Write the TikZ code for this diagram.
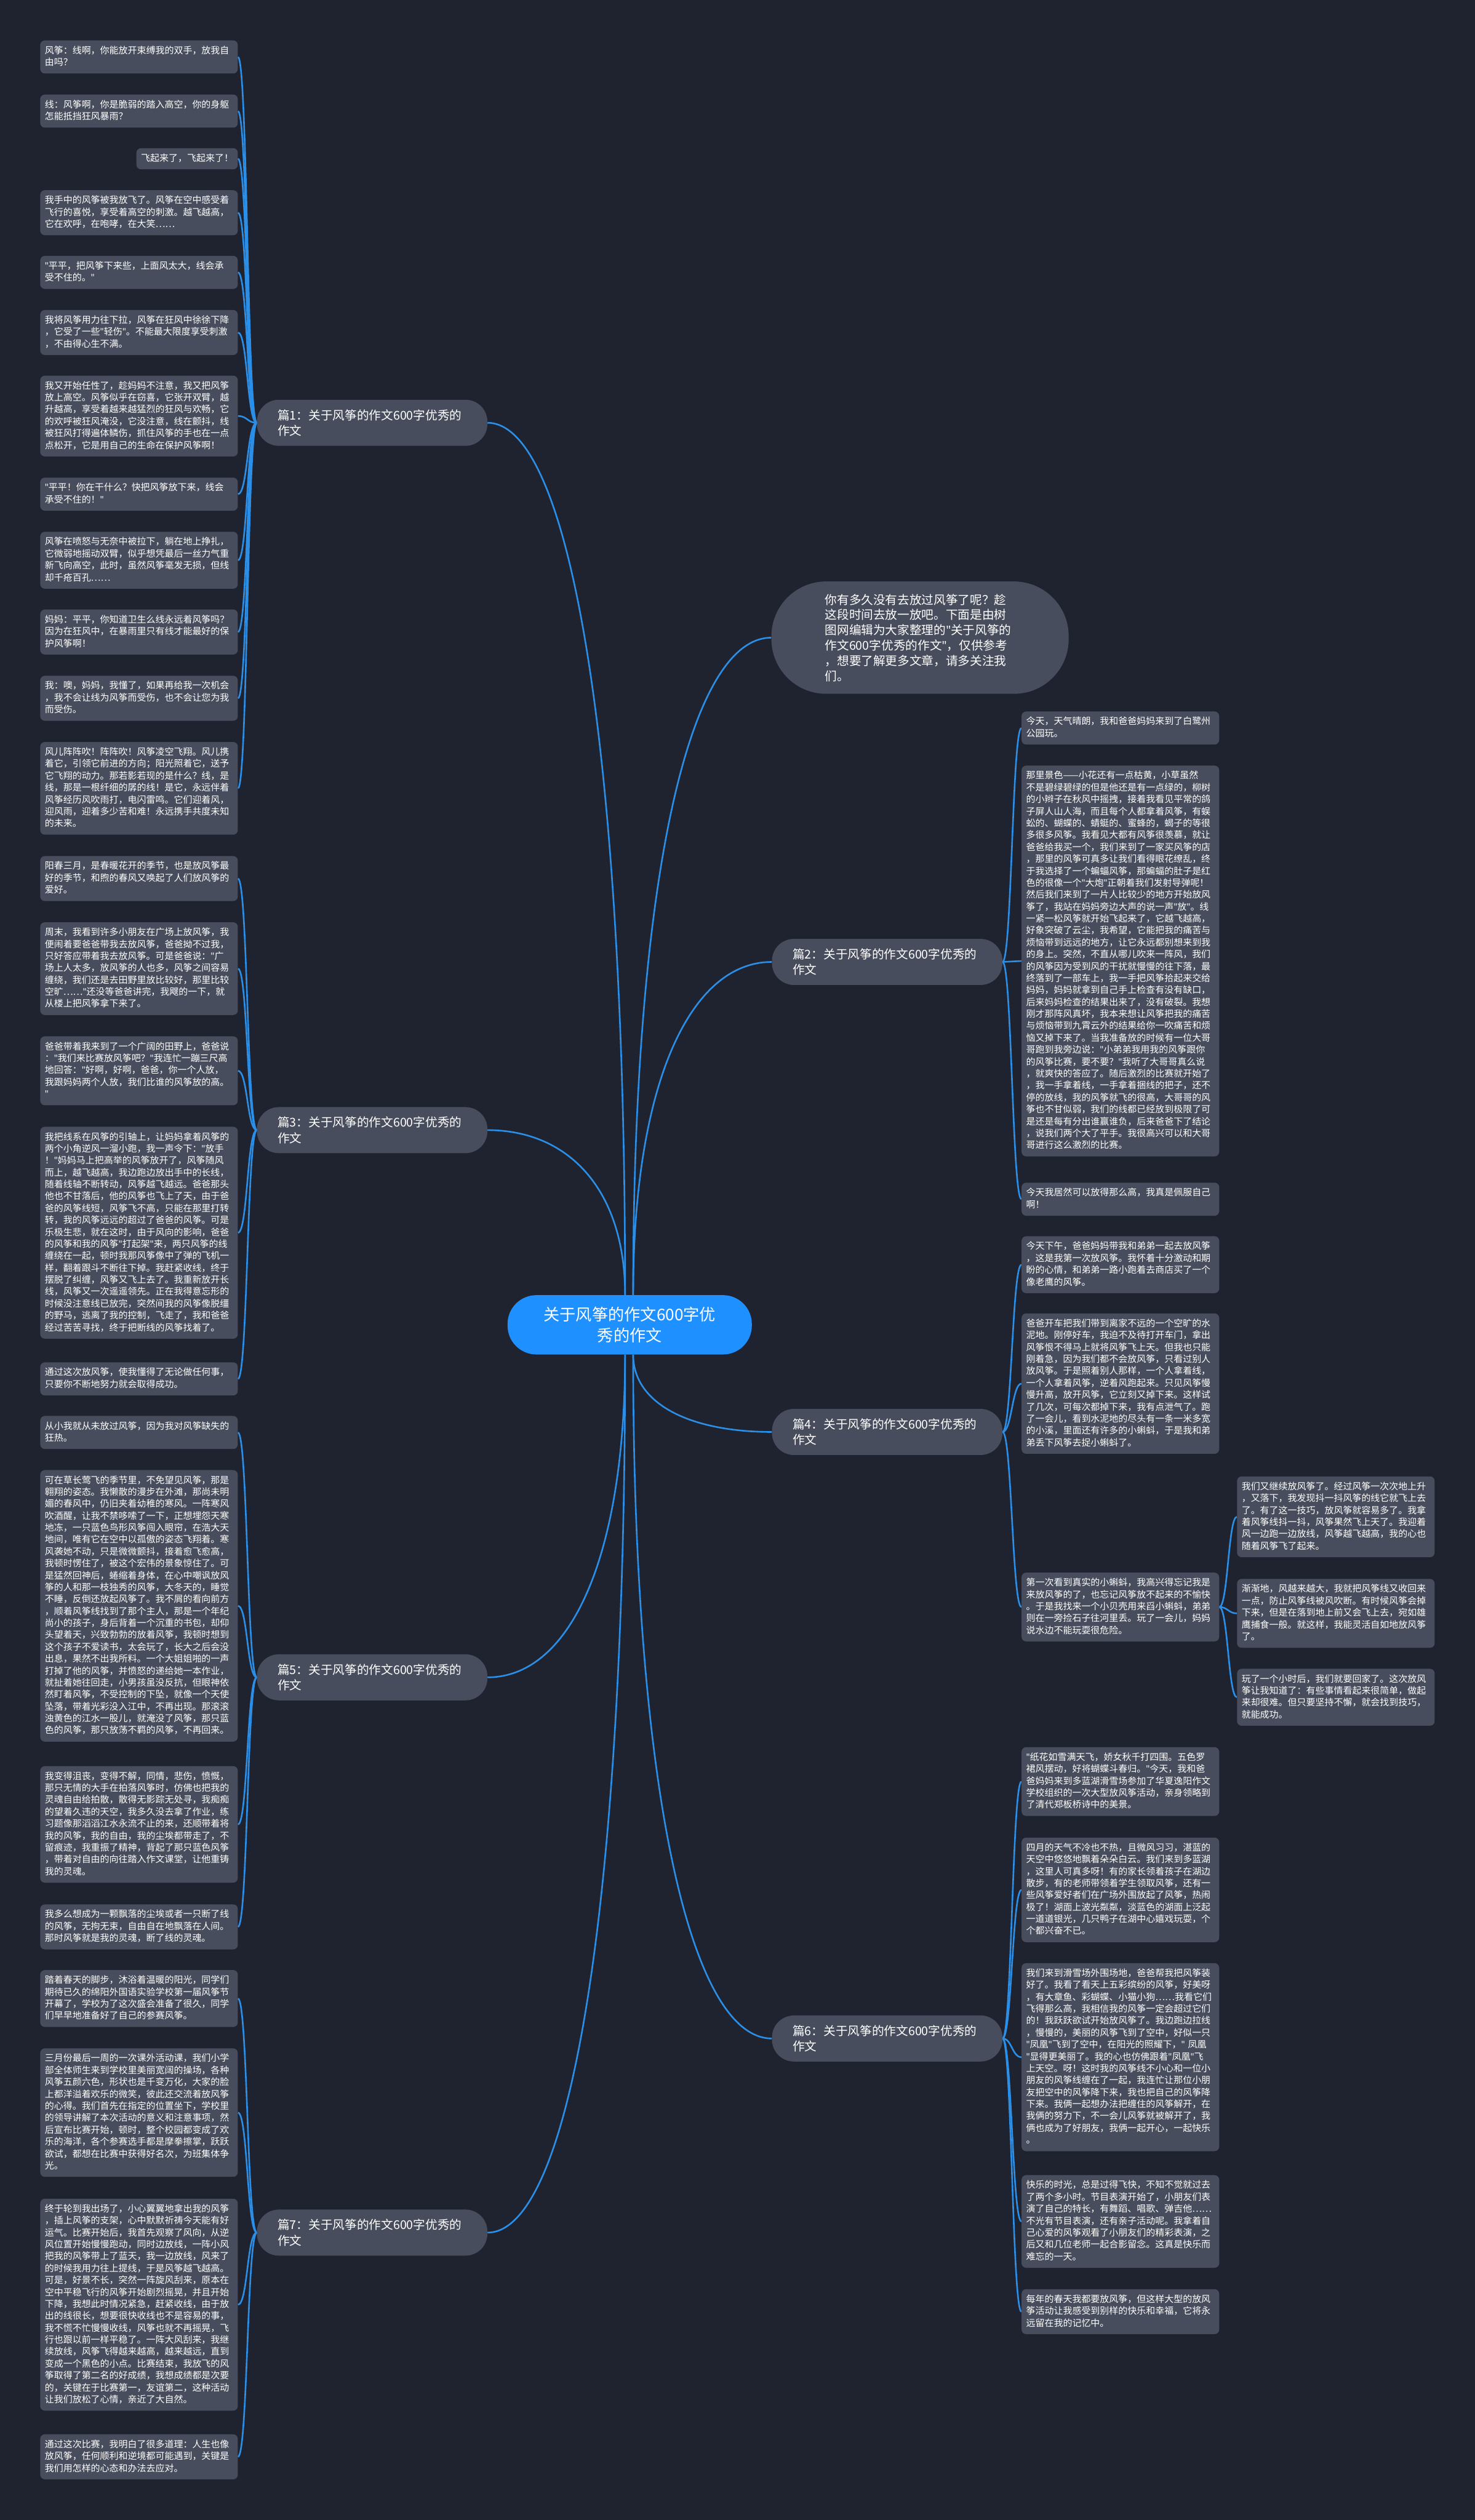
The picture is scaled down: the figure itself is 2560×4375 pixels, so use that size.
\documentclass[tikz,border=0pt]{standalone}
\usepackage{fontspec}
\setmainfont{Noto Sans CJK SC}
\newfontfamily\latinfont{Noto Sans}
\usetikzlibrary{calc}
\definecolor{bgcol}{HTML}{1F2330}
\definecolor{nodecol}{HTML}{474D5C}
\definecolor{linecol}{HTML}{2B8FE8}
\definecolor{centercol}{HTML}{1E90FF}
\newcommand\dq{{\latinfont"}}
\newcommand\leaffont{\fontsize{16pt}{20.7pt}\selectfont}
\newcommand\branchfont{\fontsize{21pt}{27pt}\selectfont}
\newcommand\introfont{\fontsize{21pt}{26.5pt}\selectfont}
\newcommand\centerfont{\fontsize{28pt}{36pt}\selectfont}
\newcommand\lbeg{\rule{0pt}{15pt}}
\newcommand\lend{\rule[-5.7pt]{0pt}{5.7pt}}
\pgfdeclarelayer{bglayer}
\pgfdeclarelayer{edgelayer}
\pgfsetlayers{bglayer,edgelayer,main}
\tikzset{
  leafbase/.style={fill=nodecol, rounded corners=8pt, text=white, font=\leaffont, align=left, inner xsep=8pt, inner ysep=8pt, execute at begin node=\lbeg, execute at end node=\lend},
  leaf/.style={leafbase, text width=327pt},
  branch/.style={fill=nodecol, rounded corners=38pt, text=white, font=\branchfont, align=left, text width=328pt, inner xsep=36pt, inner ysep=0pt, minimum height=80pt},
  intro/.style={fill=nodecol, rounded corners=95pt, text=white, font=\introfont, align=left, text width=330pt, inner xsep=93pt, inner ysep=0pt, minimum height=195pt},
  centre/.style={fill=centercol, rounded corners=50pt, text=white, font=\centerfont, align=center, text width=310pt, inner xsep=57pt, inner ysep=0pt, minimum height=103pt},
  conn/.style={draw=linecol, line width=2.8pt}
}
\begin{document}
\begin{tikzpicture}[x=1pt,y=-1pt]
\useasboundingbox (0,0) rectangle (2560,4375);
\begin{pgfonlayer}{bglayer}
\fill[bgcol] (0,0) rectangle (2560,4375);
\end{pgfonlayer}

% centre and branches
\node[centre] (ct) at (1093,2300) {关于风筝的作文600字优\\秀的作文};
\node[intro] (in) at (1597,1107) {你有多久没有去放过风筝了呢？趁\\这段时间去放一放吧。下面是由树\\图网编辑为大家整理的\dq{}关于风筝的\\作文600字优秀的作文\dq{}，仅供参考\\，想要了解更多文章，请多关注我\\们。};
\node[branch] (b1) at (646,734) {篇1：关于风筝的作文600字优秀的\\作文};
\node[branch] (b2) at (1540,1670) {篇2：关于风筝的作文600字优秀的\\作文};
\node[branch] (b3) at (646,1962) {篇3：关于风筝的作文600字优秀的\\作文};
\node[branch] (b4) at (1540,2486) {篇4：关于风筝的作文600字优秀的\\作文};
\node[branch] (b5) at (646,2912) {篇5：关于风筝的作文600字优秀的\\作文};
\node[branch] (b6) at (1540,3539) {篇6：关于风筝的作文600字优秀的\\作文};
\node[branch] (b7) at (646,3876) {篇7：关于风筝的作文600字优秀的\\作文};

% 篇1 leaves
\node[leaf, anchor=north east] (l1) at (413,70) {风筝：线啊，你能放开束缚我的双手，放我自\\由吗？};
\node[leaf, anchor=north east] (l2) at (413,164) {线：风筝啊，你是脆弱的踏入高空，你的身躯\\怎能抵挡狂风暴雨？};
\node[leafbase, anchor=north east] (l3) at (413,257) {飞起来了，飞起来了！};
\node[leaf, anchor=north east] (l4) at (413,330) {我手中的风筝被我放飞了。风筝在空中感受着\\飞行的喜悦，享受着高空的刺激。越飞越高，\\它在欢呼，在咆哮，在大笑……};
\node[leaf, anchor=north east] (l5) at (413,444) {\dq{}平平，把风筝下来些，上面风太大，线会承\\受不住的。\dq{}};
\node[leaf, anchor=north east] (l6) at (413,538) {我将风筝用力往下拉，风筝在狂风中徐徐下降\\，它受了一些\dq{}轻伤\dq{}。不能最大限度享受刺激\\，不由得心生不满。};
\node[leaf, anchor=north east] (l7) at (413,652) {我又开始任性了，趁妈妈不注意，我又把风筝\\放上高空。风筝似乎在窃喜，它张开双臂，越\\升越高，享受着越来越猛烈的狂风与欢畅，它\\的欢呼被狂风淹没，它没注意，线在颤抖，线\\被狂风打得遍体鳞伤，抓住风筝的手也在一点\\点松开，它是用自己的生命在保护风筝啊！};
\node[leaf, anchor=north east] (l8) at (413,829) {\dq{}平平！你在干什么？快把风筝放下来，线会\\承受不住的！\dq{}};
\node[leaf, anchor=north east] (l9) at (413,923) {风筝在喷怒与无奈中被拉下，躺在地上挣扎，\\它微弱地摇动双臂，似乎想凭最后一丝力气重\\新飞向高空，此时，虽然风筝毫发无损，但线\\却千疮百孔……};
\node[leaf, anchor=north east] (l10) at (413,1058) {妈妈：平平，你知道卫生么线永远着风筝吗？\\因为在狂风中，在暴雨里只有线才能最好的保\\护风筝啊！};
\node[leaf, anchor=north east] (l11) at (413,1173) {我：噢，妈妈，我懂了，如果再给我一次机会\\，我不会让线为风筝而受伤，也不会让您为我\\而受伤。};
\node[leaf, anchor=north east] (l12) at (413,1288) {风儿阵阵吹！阵阵吹！风筝凌空飞翔。风儿携\\着它，引领它前进的方向；阳光照着它，送予\\它飞翔的动力。那若影若现的是什么？线，是\\线，那是一根纤细的孱的线！是它，永远伴着\\风筝经历风吹雨打，电闪雷鸣。它们迎着风，\\迎风雨，迎着多少苦和难！永远携手共度未知\\的未来。};

% 篇3 leaves
\node[leaf, anchor=north east] (m1) at (413,1486) {阳春三月，是春暖花开的季节，也是放风筝最\\好的季节，和煦的春风又唤起了人们放风筝的\\爱好。};
\node[leaf, anchor=north east] (m2) at (413,1601) {周末，我看到许多小朋友在广场上放风筝，我\\便闹着要爸爸带我去放风筝，爸爸拗不过我，\\只好答应带着我去放风筝。可是爸爸说：\dq{}广\\场上人太多，放风筝的人也多，风筝之间容易\\缠绕，我们还是去田野里放比较好，那里比较\\空旷……\dq{}还没等爸爸讲完，我飕的一下，就\\从楼上把风筝拿下来了。};
\node[leaf, anchor=north east] (m3) at (413,1799) {爸爸带着我来到了一个广阔的田野上，爸爸说\\：\dq{}我们来比赛放风筝吧？\dq{}我连忙一蹦三尺高\\地回答：\dq{}好啊，好啊，爸爸，你一个人放，\\我跟妈妈两个人放，我们比谁的风筝放的高。\\\dq{}};
\node[leaf, anchor=north east] (m4) at (413,1956) {我把线系在风筝的引轴上，让妈妈拿着风筝的\\两个小角逆风一溜小跑，我一声令下：\dq{}放手\\！\dq{}妈妈马上把高举的风筝放开了，风筝随风\\而上，越飞越高，我边跑边放出手中的长线，\\随着线轴不断转动，风筝越飞越远。爸爸那头\\他也不甘落后，他的风筝也飞上了天，由于爸\\爸的风筝线短，风筝飞不高，只能在那里打转\\转，我的风筝远远的超过了爸爸的风筝。可是\\乐极生悲，就在这时，由于风向的影响，爸爸\\的风筝和我的风筝\dq{}打起架\dq{}来，两只风筝的线\\缠绕在一起，顿时我那风筝像中了弹的飞机一\\样，翻着跟斗不断往下掉。我赶紧收线，终于\\摆脱了纠缠，风筝又飞上去了。我重新放开长\\线，风筝又一次遥遥领先。正在我得意忘形的\\时候没注意线已放完，突然间我的风筝像脱缰\\的野马，逃离了我的控制，飞走了，我和爸爸\\经过苦苦寻找，终于把断线的风筝找着了。};
\node[leaf, anchor=north east] (m5) at (413,2365) {通过这次放风筝，使我懂得了无论做任何事，\\只要你不断地努力就会取得成功。};

% 篇5 leaves
\node[leaf, anchor=north east] (n1) at (413,2458) {从小我就从未放过风筝，因为我对风筝缺失的\\狂热。};
\node[leaf, anchor=north east] (n2) at (413,2552) {可在草长莺飞的季节里，不免望见风筝，那是\\翱翔的姿态。我懒散的漫步在外滩，那尚未明\\媚的春风中，仍旧夹着幼稚的寒风。一阵寒风\\吹酒醒，让我不禁哆嗦了一下，正想埋怨天寒\\地冻，一只蓝色鸟形风筝闯入眼帘，在浩大天\\地间，唯有它在空中以孤傲的姿态飞翔着。寒\\风袭她不动，只是微微颤抖，接着愈飞愈高，\\我顿时愣住了，被这个宏伟的景象惊住了。可\\是猛然回神后，蜷缩着身体，在心中嘲讽放风\\筝的人和那一枝独秀的风筝，大冬天的，睡觉\\不睡，反倒还放起风筝了。我不屑的看向前方\\，顺着风筝线找到了那个主人，那是一个年纪\\尚小的孩子，身后背着一个沉重的书包，却仰\\头望着天，兴致勃勃的放着风筝，我顿时想到\\这个孩子不爱读书，太会玩了，长大之后会没\\出息，果然不出我所料。一个大姐姐啪的一声\\打掉了他的风筝，并愤怒的递给她一本作业，\\就扯着她往回走，小男孩虽没反抗，但眼神依\\然盯着风筝，不受控制的下坠，就像一个天使\\坠落，带着光彩没入江中，不再出现。那滚滚\\浊黄色的江水一股儿，就淹没了风筝，那只蓝\\色的风筝，那只放荡不羁的风筝，不再回来。};
\node[leaf, anchor=north east] (n3) at (413,3066) {我变得沮丧，变得不解，同情，悲伤，愤慨，\\那只无情的大手在拍落风筝时，仿佛也把我的\\灵魂自由给拍散，散得无影踪无处寻，我痴痴\\的望着久违的天空，我多久没去拿了作业，练\\习题像那滔滔江水永流不止的来，还顺带着将\\我的风筝，我的自由，我的尘埃都带走了，不\\留痕迹，我重振了精神，背起了那只蓝色风筝\\，带着对自由的向往踏入作文课堂，让他重铸\\我的灵魂。};
\node[leaf, anchor=north east] (n4) at (413,3306) {我多么想成为一颗飘落的尘埃或者一只断了线\\的风筝，无拘无束，自由自在地飘落在人间。\\那时风筝就是我的灵魂，断了线的灵魂。};

% 篇7 leaves
\node[leaf, anchor=north east] (p1) at (413,3420) {踏着春天的脚步，沐浴着温暖的阳光，同学们\\期待已久的绵阳外国语实验学校第一届风筝节\\开幕了，学校为了这次盛会准备了很久，同学\\们早早地准备好了自己的参赛风筝。};
\node[leaf, anchor=north east] (p2) at (413,3556) {三月份最后一周的一次课外活动课，我们小学\\部全体师生来到学校里美丽宽阔的操场，各种\\风筝五颜六色，形状也是千变万化，大家的脸\\上都洋溢着欢乐的微笑，彼此还交流着放风筝\\的心得。我们首先在指定的位置坐下，学校里\\的领导讲解了本次活动的意义和注意事项，然\\后宣布比赛开始，顿时，整个校园都变成了欢\\乐的海洋，各个参赛选手都是摩拳擦掌，跃跃\\欲试，都想在比赛中获得好名次，为班集体争\\光。};
\node[leaf, anchor=north east] (p3) at (413,3817) {终于轮到我出场了，小心翼翼地拿出我的风筝\\，插上风筝的支架，心中默默祈祷今天能有好\\运气。比赛开始后，我首先观察了风向，从逆\\风位置开始慢慢跑动，同时边放线，一阵小风\\把我的风筝带上了蓝天，我一边放线，风来了\\的时候我用力往上提线，于是风筝越飞越高。\\可是，好景不长，突然一阵旋风刮来，原本在\\空中平稳飞行的风筝开始剧烈摇晃，并且开始\\下降，我想此时情况紧急，赶紧收线，由于放\\出的线很长，想要很快收线也不是容易的事，\\我不慌不忙慢慢收线，风筝也就不再摇晃，飞\\行也跟以前一样平稳了。一阵大风刮来，我继\\续放线，风筝飞得越来越高，越来越远，直到\\变成一个黑色的小点。比赛结束，我放飞的风\\筝取得了第二名的好成绩，我想成绩都是次要\\的，关键在于比赛第一，友谊第二，这种活动\\让我们放松了心情，亲近了大自然。};
\node[leaf, anchor=north east] (p4) at (413,4226) {通过这次比赛，我明白了很多道理：人生也像\\放风筝，任何顺利和逆境都可能遇到，关键是\\我们用怎样的心态和办法去应对。};

% 篇2 leaves
\node[leaf, anchor=north west] (r1) at (1773,1235) {今天，天气晴朗，我和爸爸妈妈来到了白鹭州\\公园玩。};
\node[leaf, anchor=north west] (r2) at (1773,1329) {那里景色——小花还有一点枯黄，小草虽然\\不是碧绿碧绿的但是他还是有一点绿的，柳树\\的小辫子在秋风中摇拽，接着我看见平常的鸽\\子屏人山人海，而且每个人都拿着风筝，有蜈\\蚣的、蝴蝶的、蜻蜓的、蜜蜂的，蝎子的等很\\多很多风筝。我看见大都有风筝很羡慕，就让\\爸爸给我买一个，我们来到了一家买风筝的店\\，那里的风筝可真多让我们看得眼花缭乱，终\\于我选择了一个蝙蝠风筝，那蝙蝠的肚子是红\\色的很像一个\dq{}大炮\dq{}正朝着我们发射导弹呢！\\然后我们来到了一片人比较少的地方开始放风\\筝了，我站在妈妈旁边大声的说一声\dq{}放\dq{}。线\\一紧一松风筝就开始飞起来了，它越飞越高，\\好象突破了云尘，我希望，它能把我的痛苦与\\烦恼带到远远的地方，让它永远都别想来到我\\的身上。突然，不直从哪儿吹来一阵风，我们\\的风筝因为受到风的干扰就慢慢的往下落，最\\终落到了一部车上，我一手把风筝拾起来交给\\妈妈，妈妈就拿到自己手上检查有没有缺口，\\后来妈妈检查的结果出来了，没有破裂。我想\\刚才那阵风真坏，我本来想让风筝把我的痛苦\\与烦恼带到九霄云外的结果给你一吹痛苦和烦\\恼又掉下来了。当我准备放的时候有一位大哥\\哥跑到我旁边说：\dq{}小弟弟我用我的风筝跟你\\的风筝比赛，要不要？\dq{}我听了大哥哥真么说\\，就爽快的答应了。随后激烈的比赛就开始了\\，我一手拿着线，一手拿着捆线的把子，还不\\停的放线，我的风筝就飞的很高，大哥哥的风\\筝也不甘似弱，我们的线都已经放到极限了可\\是还是每有分出谁赢谁负，后来爸爸下了结论\\，说我们两个大了平手。我很高兴可以和大哥\\哥进行这么激烈的比赛。};
\node[leaf, anchor=north west] (r3) at (1773,2053) {今天我居然可以放得那么高，我真是佩服自己\\啊！};

% 篇4 leaves
\node[leaf, anchor=north west] (s1) at (1773,2146) {今天下午，爸爸妈妈带我和弟弟一起去放风筝\\，这是我第一次放风筝。我怀着十分激动和期\\盼的心情，和弟弟一路小跑着去商店买了一个\\像老鹰的风筝。};
\node[leaf, anchor=north west] (s2) at (1773,2280) {爸爸开车把我们带到离家不远的一个空旷的水\\泥地。刚停好车，我迫不及待打开车门，拿出\\风筝恨不得马上就将风筝飞上天。但我也只能\\刚着急，因为我们都不会放风筝，只看过别人\\放风筝。于是照着别人那样，一个人拿着线，\\一个人拿着风筝，逆着风跑起来。只见风筝慢\\慢升高，放开风筝，它立刻又掉下来。这样试\\了几次，可每次都掉下来，我有点泄气了。跑\\了一会儿，看到水泥地的尽头有一条一米多宽\\的小溪，里面还有许多的小蝌蚪，于是我和弟\\弟丢下风筝去捉小蝌蚪了。};
\node[leaf, anchor=north west] (s3) at (1773,2730) {第一次看到真实的小蝌蚪，我高兴得忘记我是\\来放风筝的了，也忘记风筝放不起来的不愉快\\。于是我找来一个小贝壳用来舀小蝌蚪，弟弟\\则在一旁捡石子往河里丢。玩了一会儿，妈妈\\说水边不能玩耍很危险。};
\node[leaf, anchor=north west] (t1) at (2147,2563) {我们又继续放风筝了。经过风筝一次次地上升\\，又落下，我发现抖一抖风筝的线它就飞上去\\了。有了这一技巧，放风筝就容易多了。我拿\\着风筝线抖一抖，风筝果然飞上天了。我迎着\\风一边跑一边放线，风筝越飞越高，我的心也\\随着风筝飞了起来。};
\node[leaf, anchor=north west] (t2) at (2147,2741) {渐渐地，风越来越大，我就把风筝线又收回来\\一点，防止风筝线被风吹断。有时候风筝会掉\\下来，但是在落到地上前又会飞上去，宛如雄\\鹰捕食一般。就这样，我能灵活自如地放风筝\\了。};
\node[leaf, anchor=north west] (t3) at (2147,2897) {玩了一个小时后，我们就要回家了。这次放风\\筝让我知道了：有些事情看起来很简单，做起\\来却很难。但只要坚持不懈，就会找到技巧，\\就能成功。};

% 篇6 leaves
\node[leaf, anchor=north west] (u1) at (1773,3033) {\dq{}纸花如雪满天飞，娇女秋千打四围。五色罗\\裙风摆动，好将蝴蝶斗春归。\dq{}今天，我和爸\\爸妈妈来到多蓝湖滑雪场参加了华夏逸阳作文\\学校组织的一次大型放风筝活动，亲身领略到\\了清代郑板桥诗中的美景。};
\node[leaf, anchor=north west] (u2) at (1773,3190) {四月的天气不冷也不热，且微风习习，湛蓝的\\天空中悠悠地飘着朵朵白云。我们来到多蓝湖\\，这里人可真多呀！有的家长领着孩子在湖边\\散步，有的老师带领着学生领取风筝，还有一\\些风筝爱好者们在广场外围放起了风筝，热闹\\极了！湖面上波光粼粼，淡蓝色的湖面上泛起\\一道道银光，几只鸭子在湖中心嬉戏玩耍，个\\个都兴奋不已。};
\node[leaf, anchor=north west] (u3) at (1773,3408) {我们来到滑雪场外围场地，爸爸帮我把风筝装\\好了。我看了看天上五彩缤纷的风筝，好美呀\\，有大章鱼、彩蝴蝶、小猫小狗……我看它们\\飞得那么高，我相信我的风筝一定会超过它们\\的！我跃跃欲试开始放风筝了。我边跑边拉线\\，慢慢的，美丽的风筝飞到了空中，好似一只\\\dq{}凤凰\dq{}飞到了空中，在阳光的照耀下，\dq{}~凤凰\\\dq{}显得更美丽了。我的心也仿佛跟着\dq{}凤凰\dq{}飞\\上天空。呀！这时我的风筝线不小心和一位小\\朋友的风筝线缠在了一起，我连忙让那位小朋\\友把空中的风筝降下来，我也把自己的风筝降\\下来。我俩一起想办法把缠住的风筝解开，在\\我俩的努力下，不一会儿风筝就被解开了，我\\俩也成为了好朋友，我俩一起开心，一起快乐\\。};
\node[leaf, anchor=north west] (u4) at (1773,3776) {快乐的时光，总是过得飞快，不知不觉就过去\\了两个多小时。节目表演开始了，小朋友们表\\演了自己的特长，有舞蹈、唱歌、弹吉他……\\不光有节目表演，还有亲子活动呢。我拿着自\\己心爱的风筝观看了小朋友们的精彩表演，之\\后又和几位老师一起合影留念。这真是快乐而\\难忘的一天。};
\node[leaf, anchor=north west] (u5) at (1773,3974) {每年的春天我都要放风筝，但这样大型的放风\\筝活动让我感受到别样的快乐和幸福，它将永\\远留在我的记忆中。};

% connectors
\begin{pgfonlayer}{edgelayer}
\draw[conn] (b1.east) .. controls +(143,0) and +(0,-954) .. ([xshift=-8pt]ct.north);
\draw[conn] (b3.east) .. controls +(143,0) and +(0,-180) .. ([xshift=-8pt]ct.north);
\draw[conn] (b5.east) .. controls +(143,0) and +(0,353) .. ([xshift=-8pt]ct.south);
\draw[conn] (b7.east) .. controls +(143,0) and +(0,961) .. ([xshift=-8pt]ct.south);
\draw[conn] (in.west) .. controls +(-143,0) and +(0,-719) .. ([xshift=6pt]ct.north);
\draw[conn] (b2.west) .. controls +(-143,0) and +(0,-364) .. ([xshift=6pt]ct.north);
\draw[conn] (b4.west) .. controls +(-143,0) and +(0,85) .. ([xshift=6pt]ct.south);
\draw[conn] (b6.west) .. controls +(-143,0) and +(0,748) .. ([xshift=6pt]ct.south);
\foreach \l in {l1,l2,l3,l4,l5,l6,l7,l8,l9,l10,l11,l12}
  \draw[conn] (b1.west) .. controls +(-17,0) and +(17,0) .. (\l.east);
\foreach \l in {m1,m2,m3,m4,m5}
  \draw[conn] (b3.west) .. controls +(-17,0) and +(17,0) .. (\l.east);
\foreach \l in {n1,n2,n3,n4}
  \draw[conn] (b5.west) .. controls +(-17,0) and +(17,0) .. (\l.east);
\foreach \l in {p1,p2,p3,p4}
  \draw[conn] (b7.west) .. controls +(-17,0) and +(17,0) .. (\l.east);
\foreach \l in {r1,r2,r3}
  \draw[conn] (b2.east) .. controls +(16,0) and +(-16,0) .. (\l.west);
\foreach \l in {s1,s2,s3}
  \draw[conn] (b4.east) .. controls +(16,0) and +(-16,0) .. (\l.west);
\foreach \l in {t1,t2,t3}
  \draw[conn] (s3.east) .. controls +(15,0) and +(-15,0) .. (\l.west);
\foreach \l in {u1,u2,u3,u4,u5}
  \draw[conn] (b6.east) .. controls +(16,0) and +(-16,0) .. (\l.west);
\end{pgfonlayer}
\end{tikzpicture}
\end{document}
